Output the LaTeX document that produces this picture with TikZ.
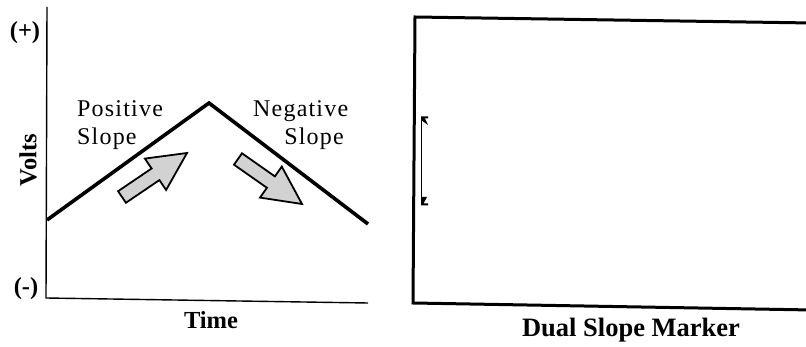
\documentclass[tikz,border=0pt]{standalone}
\usepackage{fontspec}
\setmainfont{Liberation Serif}
\begin{document}
\begin{tikzpicture}[x=1pt,y=-1pt,
  lbl/.style={inner sep=0pt,font=\fontsize{24}{26}\selectfont\addfontfeature{LetterSpace=5}},
  blbl/.style={inner sep=0pt,font=\fontsize{24.5}{26}\selectfont\bfseries},
  axis/.style={line width=1.4pt},
  wave/.style={line width=3.6pt,line join=miter,line cap=butt},
  slopearrow/.style={draw,line width=1.8pt,fill=gray!35,line join=miter},
  frame/.style={line width=3pt,line join=miter}]
\useasboundingbox (0,0) rectangle (806,347);
% axes
\coordinate (ytop) at (47,7);
\coordinate (orig) at (46,298);
\coordinate (xend) at (368,303);
\draw[axis] (ytop) -- (orig) -- (xend);
% triangle wave
\coordinate (w0) at (47,220);
\coordinate (wpk) at (209,103);
\coordinate (w1) at (368,224);
\draw[wave] (w0) -- (wpk) -- (w1);
% labels
\node[blbl] (plus) at (25,33) {(+)};
\node[blbl] (minus) at (26,289) {(-)};
\node[blbl,rotate=90] (volts) at (28,160) {Volts};
\node[blbl,anchor=base] (time) at (211,329) {Time};
\node[lbl,anchor=base west] (pos1) at (77,117) {Positive};
\node[lbl,anchor=base west] (pos2) at (77,145) {Slope};
\node[lbl,anchor=base west] (neg1) at (253,117) {Negative};
\node[lbl,anchor=base east] (neg2) at (344,145) {Slope};
% arrows
\draw[slopearrow] (125.9,202.8) -- (159.4,180.1) -- (166.1,190.0) -- (187,153)
  -- (144.9,158.6) -- (151.6,168.5) -- (118.1,191.2) -- cycle;
\draw[slopearrow] (242,153.3) -- (274.9,176.4) -- (281.8,166.6) -- (302,204)
  -- (260,197.6) -- (266.9,187.8) -- (234,164.7) -- cycle;
% right frame
\coordinate (ftr) at (812,23);
\coordinate (ftl) at (415,17);
\coordinate (fbl) at (413,303);
\coordinate (fbr) at (812,310);
\begin{scope}
\clip (0,0) rectangle (806,347);
\draw[frame] (ftr) -- (ftl) -- (fbl) -- (fbr);
\end{scope}
% marker
\coordinate (mt) at (421,117);
\coordinate (mb) at (421,205);
\draw[line width=1pt] (mt) -- (mb);
\fill (421,116.5) -- (428,116.5) -- (428,118.5) -- (425,118.5) -- (428,125) -- (421,120) -- cycle;
\fill (421,197) -- (427,197) -- (423.5,203.5) -- (428,203.5) -- (428,205.5) -- (421,205.5) -- cycle;
\node[font=\fontsize{26.5}{28}\selectfont\bfseries,inner sep=0pt,anchor=base] (title) at (631,337) {Dual Slope Marker};
\end{tikzpicture}
\end{document}
